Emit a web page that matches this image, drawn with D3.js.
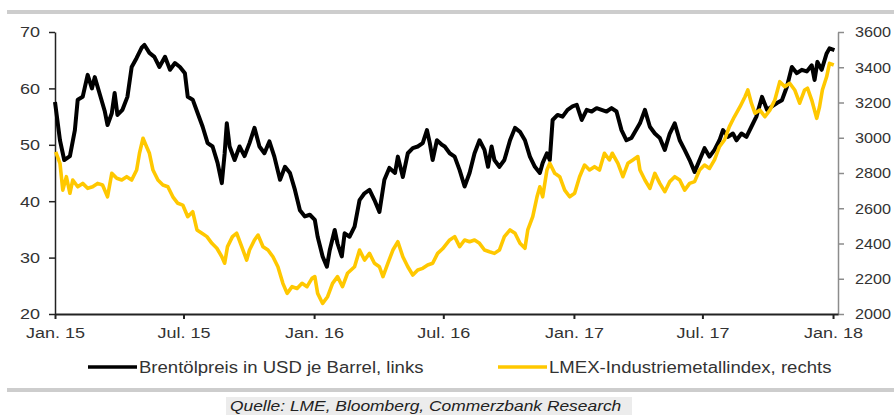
<!DOCTYPE html>
<html>
<head>
<meta charset="utf-8">
<script src="https://cdn.jsdelivr.net/npm/d3@7"></script>
<style>
  body { margin: 0; background: #fff; }
  svg { display: block; font-family: 'Liberation Sans', Arial, sans-serif; }
</style>
</head>
<body>
<svg width="894" height="415"></svg>
<script>
// Brent oil, USD per barrel (left axis)
const brentDates = [
  '2015-01-01','2015-01-08','2015-01-14','2015-01-22','2015-01-29','2015-02-02','2015-02-09','2015-02-16',
  '2015-02-22','2015-02-26','2015-03-05','2015-03-12','2015-03-16','2015-03-22','2015-03-26','2015-03-30',
  '2015-04-06','2015-04-13','2015-04-19','2015-04-26','2015-05-03','2015-05-07','2015-05-14','2015-05-21',
  '2015-05-28','2015-06-05','2015-06-12','2015-06-19','2015-06-26','2015-07-03','2015-07-07','2015-07-14',
  '2015-07-21','2015-07-28','2015-08-04','2015-08-11','2015-08-18','2015-08-24','2015-08-28','2015-08-31',
  '2015-09-04','2015-09-11','2015-09-18','2015-09-25','2015-10-02','2015-10-09','2015-10-16','2015-10-23',
  '2015-10-30','2015-11-06','2015-11-14','2015-11-21','2015-11-28','2015-12-05','2015-12-12','2015-12-19',
  '2015-12-26','2016-01-02','2016-01-06','2016-01-13','2016-01-19','2016-01-23','2016-01-30','2016-02-03',
  '2016-02-09','2016-02-13','2016-02-20','2016-02-27','2016-03-05','2016-03-12','2016-03-19','2016-03-26',
  '2016-04-02','2016-04-09','2016-04-16','2016-04-24','2016-04-28','2016-05-05','2016-05-12','2016-05-19',
  '2016-05-26','2016-06-02','2016-06-08','2016-06-12','2016-06-16','2016-06-22','2016-06-29','2016-07-03',
  '2016-07-10','2016-07-17','2016-07-24','2016-07-31','2016-08-07','2016-08-14','2016-08-21','2016-08-28',
  '2016-09-02','2016-09-07','2016-09-11','2016-09-18','2016-09-25','2016-10-03','2016-10-10','2016-10-17',
  '2016-10-24','2016-10-31','2016-11-07','2016-11-14','2016-11-18','2016-11-24','2016-11-28','2016-12-02',
  '2016-12-09','2016-12-16','2016-12-23','2016-12-30','2017-01-05','2017-01-12','2017-01-19','2017-01-26',
  '2017-02-02','2017-02-09','2017-02-16','2017-02-23','2017-03-02','2017-03-09','2017-03-16','2017-03-23',
  '2017-04-04','2017-04-11','2017-04-18','2017-04-25','2017-05-02','2017-05-09','2017-05-16','2017-05-23',
  '2017-05-30','2017-06-06','2017-06-13','2017-06-20','2017-06-27','2017-07-04','2017-07-11','2017-07-18',
  '2017-07-25','2017-07-30','2017-08-06','2017-08-13','2017-08-18','2017-08-25','2017-09-01','2017-09-08',
  '2017-09-15','2017-09-23','2017-09-30','2017-10-07','2017-10-14','2017-10-21','2017-10-28','2017-11-04',
  '2017-11-11','2017-11-18','2017-11-25','2017-12-02','2017-12-06','2017-12-10','2017-12-16','2017-12-23',
  '2017-12-27','2018-01-03'
];
const brentValues = [
  57.6, 50.8, 47.3, 48.0, 52.6, 58.0, 58.5, 62.4,
  60.0, 62.0, 59.0, 56.0, 53.5, 55.6, 59.2, 55.3,
  56.2, 58.5, 63.8, 65.4, 67.2, 67.7, 66.3, 65.6,
  63.8, 65.6, 63.3, 64.5, 63.8, 62.7, 58.5, 58.0,
  55.6, 53.2, 50.3, 49.7, 46.8, 43.2, 48.5, 53.8,
  49.7, 47.3, 49.7, 48.0, 50.3, 53.0, 49.7, 48.5,
  50.6, 47.9, 43.8, 46.1, 45.0, 42.0, 38.4, 37.3,
  37.6, 36.7, 33.7, 30.2, 28.4, 31.3, 34.9, 32.5,
  30.2, 34.3, 33.7, 35.5, 40.2, 41.4, 42.0, 40.2,
  38.1, 43.8, 45.9, 45.0, 47.9, 44.3, 48.5, 49.4,
  49.7, 50.3, 52.6, 50.3, 47.3, 50.8, 50.0, 49.7,
  48.5, 47.9, 45.5, 42.6, 45.0, 48.5, 50.8, 49.1,
  46.1, 49.7, 47.3, 46.1, 47.3, 50.8, 53.0, 52.3,
  50.8, 47.9, 46.1, 45.0, 46.8, 48.5, 47.3, 54.4,
  55.3, 55.0, 56.2, 56.8, 57.1, 54.4, 56.2, 55.9,
  56.5, 56.2, 55.9, 56.5, 55.9, 52.6, 50.8, 51.2,
  53.8, 56.2, 53.2, 52.0, 51.2, 49.1, 52.0, 53.8,
  50.8, 49.1, 47.3, 45.2, 47.3, 49.4, 47.9, 49.1,
  50.8, 52.6, 51.4, 52.0, 50.8, 52.0, 51.4, 53.2,
  55.0, 58.5, 56.2, 56.8, 57.4, 57.9, 60.3, 63.8,
  62.7, 63.3, 63.0, 64.1, 61.5, 64.7, 63.3, 66.2,
  67.1, 66.8
];

// LMEX industrial metals index (right axis)
const lmexDates = [
  '2015-01-02','2015-01-08','2015-01-12','2015-01-17','2015-01-22','2015-01-26','2015-02-02','2015-02-09',
  '2015-02-16','2015-02-23','2015-03-02','2015-03-09','2015-03-16','2015-03-22','2015-03-29','2015-04-05',
  '2015-04-12','2015-04-19','2015-04-26','2015-04-30','2015-05-05','2015-05-10','2015-05-14','2015-05-19',
  '2015-05-26','2015-06-02','2015-06-09','2015-06-16','2015-06-23','2015-06-30','2015-07-07','2015-07-14',
  '2015-07-20','2015-07-27','2015-08-03','2015-08-10','2015-08-17','2015-08-24','2015-08-28','2015-09-01',
  '2015-09-08','2015-09-14','2015-09-21','2015-09-28','2015-10-02','2015-10-09','2015-10-14','2015-10-21',
  '2015-10-28','2015-11-04','2015-11-11','2015-11-18','2015-11-24','2015-12-01','2015-12-08','2015-12-15',
  '2015-12-22','2015-12-29','2016-01-02','2016-01-06','2016-01-13','2016-01-20','2016-01-27','2016-02-03',
  '2016-02-10','2016-02-17','2016-02-27','2016-03-05','2016-03-12','2016-03-19','2016-03-26','2016-04-02',
  '2016-04-07','2016-04-14','2016-04-21','2016-04-28','2016-05-05','2016-05-12','2016-05-19','2016-05-26',
  '2016-06-02','2016-06-09','2016-06-16','2016-06-23','2016-06-30','2016-07-10','2016-07-17','2016-07-24',
  '2016-07-31','2016-08-07','2016-08-14','2016-08-21','2016-08-28','2016-09-04','2016-09-11','2016-09-18',
  '2016-09-25','2016-10-03','2016-10-10','2016-10-17','2016-10-24','2016-10-28','2016-11-04','2016-11-10',
  '2016-11-14','2016-11-18','2016-11-24','2016-11-28','2016-12-05','2016-12-12','2016-12-19','2016-12-26',
  '2017-01-02','2017-01-09','2017-01-16','2017-01-23','2017-01-30','2017-02-06','2017-02-13','2017-02-20',
  '2017-02-24','2017-03-04','2017-03-11','2017-03-18','2017-03-25','2017-04-01','2017-04-04','2017-04-11',
  '2017-04-18','2017-04-25','2017-05-02','2017-05-09','2017-05-16','2017-05-23','2017-05-30','2017-06-06',
  '2017-06-13','2017-06-20','2017-06-27','2017-07-04','2017-07-11','2017-07-18','2017-07-25','2017-08-01',
  '2017-08-08','2017-08-15','2017-08-23','2017-08-30','2017-09-03','2017-09-08','2017-09-13','2017-09-20',
  '2017-09-27','2017-10-04','2017-10-11','2017-10-18','2017-10-25','2017-11-01','2017-11-08','2017-11-15',
  '2017-11-22','2017-11-26','2017-12-02','2017-12-09','2017-12-13','2017-12-17','2017-12-23','2017-12-27',
  '2018-01-02'
];
const lmexValues = [
  2920, 2855, 2703, 2779, 2685, 2760, 2722, 2741,
  2713, 2722, 2741, 2732, 2665, 2798, 2770, 2760,
  2779, 2760, 2817, 2912, 2997, 2949, 2912, 2817,
  2760, 2732, 2722, 2665, 2628, 2618, 2552, 2580,
  2477, 2458, 2439, 2401, 2373, 2325, 2288, 2382,
  2439, 2458, 2382, 2306, 2363, 2420, 2448, 2382,
  2363, 2325, 2268, 2174, 2117, 2155, 2145, 2174,
  2155, 2202, 2212, 2117, 2060, 2098, 2174, 2212,
  2155, 2231, 2268, 2363, 2306, 2344, 2288, 2268,
  2212, 2288, 2363, 2410, 2325, 2268, 2221, 2250,
  2259, 2278, 2288, 2344, 2370, 2420, 2439, 2382,
  2420, 2410, 2420, 2401, 2363, 2353, 2344, 2363,
  2439, 2477, 2458, 2401, 2373, 2477, 2552, 2665,
  2722, 2665, 2817, 2855, 2798, 2779, 2703, 2665,
  2685, 2779, 2845, 2817, 2836, 2817, 2912, 2874,
  2912, 2855, 2779, 2855, 2874, 2893, 2817, 2760,
  2713, 2798, 2741, 2694, 2751, 2779, 2760, 2703,
  2741, 2751, 2817, 2845, 2826, 2874, 2949, 2987,
  3063, 3119, 3176, 3233, 3271, 3196, 3139, 3157,
  3119, 3157, 3214, 3318, 3290, 3309, 3271, 3196,
  3271, 3281, 3214, 3110, 3176, 3271, 3346, 3422,
  3413
];

const xTickDates = ['2015-01-01','2015-07-01','2016-01-01','2016-07-01','2017-01-01','2017-07-01','2018-01-01'];
const xTickLabels = ['Jan. 15','Jul. 15','Jan. 16','Jul. 16','Jan. 17','Jul. 17','Jan. 18'];
const leftTicks = [20, 30, 40, 50, 60, 70];
const rightTicks = [2000, 2200, 2400, 2600, 2800, 3000, 3200, 3400, 3600];
const legendLabels = ['Brentölpreis in USD je Barrel, links', 'LMEX-Industriemetallindex, rechts'];
const sourceText = 'Quelle: LME, Bloomberg, Commerzbank Research';

const parse = d3.timeParse('%Y-%m-%d');
const brent = brentDates.map((d, i) => ({ date: parse(d), value: brentValues[i] }));
const lmex = lmexDates.map((d, i) => ({ date: parse(d), value: lmexValues[i] }));

const svg = d3.select('svg');
const stretch = 1.2; // source picture is wider than its fonts
const textColor = '#333';
const black = '#000';
const yellow = '#ffc800';

const plotLeft = 55, plotRight = 838, plotTop = 32, plotBottom = 314;

const scaleX = d3.scaleTime()
  .domain([parse('2015-01-01'), parse('2018-01-08')])
  .range([plotLeft, plotRight]);
const scaleYL = d3.scaleLinear().domain([20, 70]).range([plotBottom, plotTop]);
const scaleYR = d3.scaleLinear().domain([2000, 3600]).range([plotBottom, plotTop]);

// grey frame lines
svg.append('rect').attr('x', 7).attr('y', 10).attr('width', 887).attr('height', 4).attr('fill', '#cdcdcd');
svg.append('rect').attr('x', 7).attr('y', 388).attr('width', 887).attr('height', 4).attr('fill', '#cdcdcd');

// axes
const axisL = d3.axisLeft(scaleYL).tickValues(leftTicks).tickSizeInner(6).tickSizeOuter(0);
const gL = svg.append('g').attr('transform', `translate(${plotLeft},0)`).call(axisL);

const axisR = d3.axisRight(scaleYR).tickValues(rightTicks).tickFormat(d3.format('d'))
  .tickSizeInner(6).tickSizeOuter(0);
const gR = svg.append('g').attr('transform', `translate(${plotRight},0)`).call(axisR);

const axisB = d3.axisBottom(scaleX)
  .tickValues(xTickDates.map(parse))
  .tickFormat((d, i) => xTickLabels[i])
  .tickSizeInner(5).tickSizeOuter(0).tickPadding(8);
const gB = svg.append('g').attr('transform', `translate(0,${plotBottom})`).call(axisB);

[gL, gR, gB].forEach(g => {
  g.selectAll('text')
    .attr('transform', `scale(${stretch},1)`)
    .style('font-size', '15px')
    .style('font-family', "'Liberation Sans', Arial, sans-serif")
    .attr('fill', textColor);
});
gL.selectAll('text').attr('x', -15 / stretch);
// right labels run up to the window edge, so they are squeezed a little less
gR.selectAll('text').attr('transform', 'scale(1.08,1)').attr('x', 17 / 1.08);

gL.selectAll('path, line').attr('stroke', '#222').attr('stroke-width', 1.5);
gB.selectAll('path, line').attr('stroke', '#222').attr('stroke-width', 2);
gR.selectAll('path, line').attr('stroke', '#8c8c8c').attr('stroke-width', 1.5);

// series
const lineL = d3.line().x(d => scaleX(d.date)).y(d => scaleYL(d.value));
const lineR = d3.line().x(d => scaleX(d.date)).y(d => scaleYR(d.value));

svg.append('path')
  .datum(brent)
  .attr('d', lineL)
  .attr('fill', 'none')
  .attr('stroke', black)
  .attr('stroke-width', 4)
  .attr('stroke-linejoin', 'round');

svg.append('path')
  .datum(lmex)
  .attr('d', lineR)
  .attr('fill', 'none')
  .attr('stroke', yellow)
  .attr('stroke-width', 3.6)
  .attr('stroke-linejoin', 'round');

// legend
const legend = svg.append('g');
const legendItems = [
  { label: legendLabels[0], color: black, x: 88 },
  { label: legendLabels[1], color: yellow, x: 498 }
];
legendItems.forEach(item => {
  legend.append('line')
    .attr('x1', item.x).attr('x2', item.x + 49)
    .attr('y1', 367).attr('y2', 367)
    .attr('stroke', item.color).attr('stroke-width', 3.5);
  legend.append('text')
    .attr('transform', `translate(${item.x + 51},373) scale(1.16,1)`)
    .style('font-size', '16px')
    .attr('fill', textColor)
    .text(item.label);
});

// source
svg.append('rect').attr('x', 226).attr('y', 397).attr('width', 406).attr('height', 18).attr('fill', '#ececec');
svg.append('text')
  .attr('transform', `translate(230,411) scale(${stretch},1)`)
  .style('font-size', '14.5px')
  .style('font-style', 'italic')
  .attr('fill', '#222')
  .text(sourceText);
</script>
</body>
</html>
